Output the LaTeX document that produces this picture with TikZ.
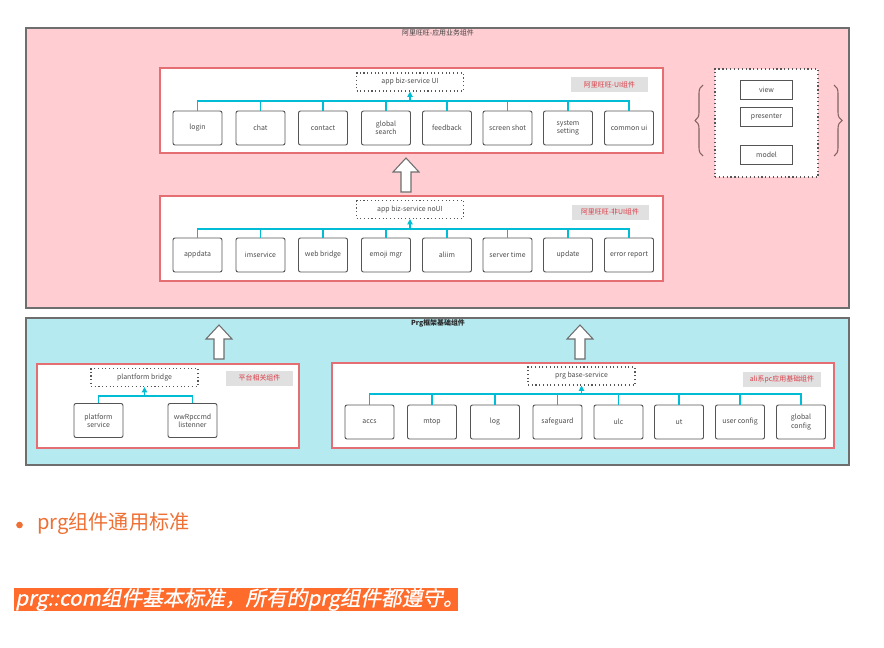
\documentclass[tikz,border=0pt]{standalone}
\usepackage{fontspec}
\setmainfont{Noto Sans CJK SC}
\newfontfamily\barfont[FakeSlant=0.2,FakeBold=0.8]{Noto Sans CJK SC}
\usetikzlibrary{fit,arrows.meta,decorations.pathreplacing}
\definecolor{pinkc}{RGB}{255,205,210}
\definecolor{cyanfill}{RGB}{180,234,240}
\definecolor{outerc}{RGB}{110,110,110}
\definecolor{redc}{RGB}{229,110,115}
\definecolor{tagfill}{RGB}{224,224,224}
\definecolor{tagtext}{RGB}{220,60,70}
\definecolor{busc}{RGB}{0,188,212}
\definecolor{boxc}{RGB}{85,85,85}
\definecolor{bracec}{RGB}{130,100,100}
\definecolor{orangec}{RGB}{238,112,52}
\definecolor{barc}{RGB}{255,107,43}
\begin{document}
\begin{tikzpicture}[x=0.75pt,y=-0.75pt,
  small/.style={font=\fontsize{5.2}{6.2}\selectfont},
  panel/.style={draw=outerc,line width=0.8pt,inner sep=0pt},
  group/.style={draw=redc,line width=0.9pt,fill=white,inner sep=0pt},
  child/.style={small,draw=boxc,line width=0.7pt,rounded corners=1.5pt,fill=white,
    minimum width=36.75pt,minimum height=25.5pt,align=center,inner sep=1pt,text=black!70},
  hdr/.style={small,draw=boxc,dotted,line width=0.8pt,fill=white,
    minimum width=80.25pt,minimum height=13.5pt,inner sep=1pt,text=black!70},
  tag/.style={small,fill=tagfill,text=tagtext,minimum width=57.75pt,minimum height=11.25pt,inner sep=1pt},
  mvp/.style={small,draw=boxc,line width=0.7pt,fill=white,minimum width=39pt,minimum height=14.25pt,inner sep=1pt,text=black!70},
  bus/.style={draw=busc,line width=0.85pt},
  busarrow/.style={bus,-{Triangle[length=4pt,width=4pt]}},
  hollowarrow/.pic={\draw[draw=outerc,fill=white,line width=0.8pt,line join=miter]
     (0,0) -- (13,14) -- (5,14) -- (5,34) -- (-5,34) -- (-5,14) -- (-13,14) -- cycle;},
  bracestyle/.style={draw=bracec,line width=0.8pt,decorate,decoration={brace,amplitude=6pt}}
]
\useasboundingbox (0,0) rectangle (884,647);
\fill[white] (0,0) rectangle (884,647);

% ---------- top pink panel ----------
\node[panel,fill=pinkc,fit={(26,28) (849,308)}] (top) {};
\node[small,text=black!75] (toptitle) at (438,32.5) {阿里旺旺-应用业务组件};

% UI group
\node[group,fit={(160,68) (663,153)}] (gUI) {};
\node[hdr] (hUI) at (410,82) {app biz-service UI};
\node[tag] (tUI) at (609.5,84.5) {阿里旺旺-UI组件};
\coordinate (bUI) at (410,101);
\foreach \x/\t [count=\i] in {197.5/login,260.5/chat,323/contact,386/{global\\search},447/feedback,507.5/screen shot,568/{system\\setting},629/common ui}{
  \node[child] (u\i) at (\x,128) {\t};
  \draw[bus] (u\i.north) |- (bUI);
}
\draw[busarrow] (bUI) -- (hUI.south);

\pic at (406,158) {hollowarrow};

% noUI group
\node[group,fit={(160,196) (663,281)}] (gNo) {};
\node[hdr] (hNo) at (410,209.5) {app biz-service noUI};
\node[tag] (tNo) at (610,212) {阿里旺旺-非UI组件};
\coordinate (bNo) at (410,229);
\foreach \x/\t [count=\i] in {197.5/appdata,260.5/imservice,323/web bridge,386/emoji mgr,447/aliim,507.5/server time,568/update,629/error report}{
  \node[child] (n\i) at (\x,255) {\t};
  \draw[bus] (n\i.north) |- (bNo);
}
\draw[busarrow] (bNo) -- (hNo.south);

% MVP panel
\node[draw=boxc,dotted,line width=0.9pt,fill=white,inner sep=0pt,fit={(715,69) (818,177)}] (mvpbox) {};
\node[mvp] (view) at (766.5,89.5) {view};
\node[mvp] (presenter) at (766.5,116.5) {presenter};
\node[mvp] (model) at (766.5,154.5) {model};
\coordinate (lbB) at (703,156);
\coordinate (lbT) at (703,85);
\coordinate (rbT) at (834,85);
\coordinate (rbB) at (834,156);
\draw[bracestyle] (lbB) -- (lbT);
\draw[bracestyle] (rbT) -- (rbB);

% ---------- bottom cyan panel ----------
\node[panel,fill=cyanfill,fit={(26,318) (849,465)}] (bot) {};
\node[small,text=black!85] (bottitle) at (438,323.5) {\bfseries Prg框架基础组件};

\pic at (219,325) {hollowarrow};
\pic at (580,325) {hollowarrow};

% platform group
\node[group,fit={(37,364) (299,448)}] (gPl) {};
\node[hdr] (hPl) at (144.5,377.5) {plantform bridge};
\node[tag,minimum width=50.25pt] (tPl) at (259.5,378) {平台相关组件};
\coordinate (bPl) at (144.5,396);
\node[child] (p1) at (98.5,420.5) {platform\\service};
\node[child] (p2) at (192.5,420.5) {wwRpccmd\\listenner};
\draw[bus] (p1.north) |- (bPl);
\draw[bus] (p2.north) |- (bPl);
\draw[busarrow] (bPl) -- (hPl.south);

% base-service group
\node[group,fit={(332,363) (834,448)}] (gBs) {};
\node[hdr] (hBs) at (581.5,376) {prg base-service};
\node[tag,minimum width=58.5pt] (tBs) at (782,379.5) {ali系pc应用基础组件};
\coordinate (bBs) at (581.5,394);
\foreach \x/\t [count=\i] in {369.5/accs,432/mtop,495/log,557.5/safeguard,618.5/ulc,679/ut,740/user config,801/{global\\config}}{
  \node[child] (s\i) at (\x,422) {\t};
  \draw[bus] (s\i.north) |- (bBs);
}
\draw[busarrow] (bBs) -- (hBs.south);

% ---------- text below ----------
\node[circle,fill=orangec,inner sep=0pt,minimum size=5pt] (dot) at (19.5,525) {};
\node[anchor=west,text=orangec,font=\fontsize{15.1}{17}\selectfont,inner sep=0pt] (bullet) at (37,524) {prg组件通用标准};

\node[fill=barc,inner sep=0pt,fit={(14,588) (458,611)}] (bar) {};
\node[anchor=west,text=white,font=\barfont\fontsize{15.5}{17}\selectfont,inner sep=0pt] (bartext) at (15,599.5) {prg::com组件基本标准，所有的prg组件都遵守。};
\end{tikzpicture}
\end{document}
